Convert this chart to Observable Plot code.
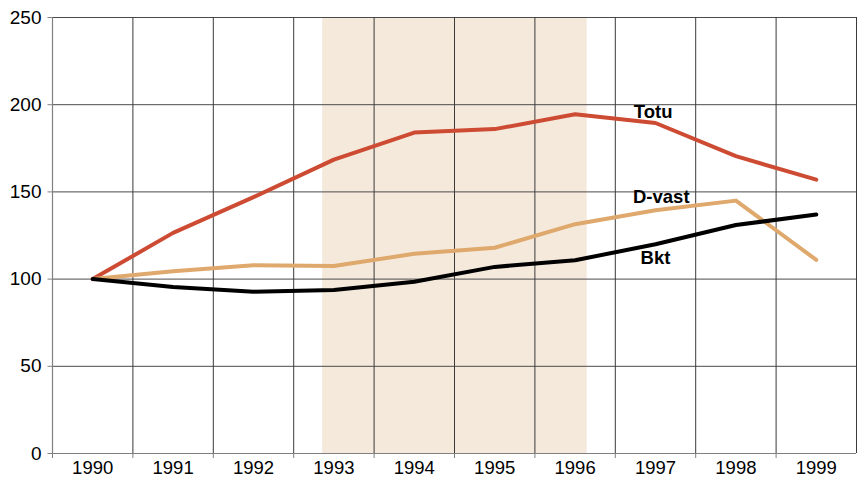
<!DOCTYPE html>
<html>
<head>
<meta charset="utf-8">
<script src="https://cdn.jsdelivr.net/npm/d3@7"></script>
<script src="https://cdn.jsdelivr.net/npm/@observablehq/plot@0.6"></script>
<style>
  html, body { margin: 0; padding: 0; background: #fff; }
  #chart svg { display: block; }
</style>
</head>
<body>
<div id="chart"></div>
<script>
const years = [1990, 1991, 1992, 1993, 1994, 1995, 1996, 1997, 1998, 1999];
const totu  = [100, 126.5, 147, 168.5, 184, 186, 194.5, 189.5, 170.5, 157];
const dvast = [100, 104.5, 108, 107.5, 114.5, 118, 131.5, 139.5, 145, 111];
const bkt   = [100, 95.5, 92.8, 93.7, 98.5, 107, 110.8, 120, 131, 137];
const yTicks = [0, 50, 100, 150, 200, 250];
const shadeStart = 1992.86, shadeEnd = 1996.15;
const labelNames = ["Totu", "D-vast", "Bkt"];
const labelX = [1996.97, 1996.72, 1997.0];
const labelY = [196, 147, 112];
const labelAnchor = ["middle", "start", "middle"];

const series = [
  {name: "Totu", values: totu, color: "#cd4b33"},
  {name: "D-vast", values: dvast, color: "#dfa86c"},
  {name: "Bkt", values: bkt, color: "#000000"}
];
const rows = series.flatMap(s => years.map((yr, i) => ({series: s.name, year: yr, value: s.values[i]})));
const bounds = d3.range(years.length + 1).map(i => years[0] - 0.5 + i);
const labels = labelNames.map((n, i) => ({name: n, x: labelX[i], y: labelY[i], anchor: labelAnchor[i]}));

const chart = Plot.plot({
  width: 857,
  height: 478,
  marginLeft: 52,
  marginRight: 1,
  marginTop: 17,
  marginBottom: 25,
  style: {fontFamily: "'Liberation Sans', Arial, sans-serif", fontSize: "18.5px", color: "#000", background: "#fff"},
  x: {domain: [years[0] - 0.5, years[years.length - 1] + 0.5]},
  y: {domain: [0, 250]},
  marks: [
    Plot.rect([{x1: shadeStart, x2: shadeEnd}], {x1: "x1", x2: "x2", y1: () => 0, y2: () => 250, fill: "#f5e9dc"}),
    Plot.ruleY(yTicks.slice(1), {stroke: "#4a4a4a", strokeWidth: 1}),
    Plot.ruleX(bounds.slice(1), {stroke: "#3a3a3a", strokeWidth: 1}),
    Plot.ruleX([bounds[0]], {stroke: "#808080", strokeWidth: 1.2}),
    Plot.ruleY([0], {stroke: "#808080", strokeWidth: 1.2}),
    ...series.map(s => Plot.line(rows.filter(r => r.series === s.name), {
      x: "year", y: "value", stroke: s.color, strokeWidth: 4, strokeLinejoin: "round", strokeLinecap: "round"
    })),
    Plot.text(labels.filter(d => d.anchor === "middle"), {x: "x", y: "y", text: "name", fontSize: 18.5, fontWeight: "bold", fill: "#000", textAnchor: "middle"}),
    Plot.text(labels.filter(d => d.anchor === "start"), {x: "x", y: "y", text: "name", fontSize: 18.5, fontWeight: "bold", fill: "#000", textAnchor: "start"}),
    Plot.axisY({ticks: yTicks, tickSize: 4.5, tickPadding: 6.5, stroke: "#808080", fill: "#000", fontSize: 19, label: null, tickFormat: d => String(d)}),
    Plot.axisX({ticks: years, tickSize: 0, tickPadding: 7, fill: "#000", fontSize: 18.5, label: null, tickFormat: d => String(d)}),
    Plot.axisX({ticks: bounds.slice(0, -1), tickSize: 5, tickPadding: 0, stroke: "#808080", label: null, tickFormat: () => ""})
  ]
});
document.getElementById("chart").appendChild(chart);
</script>
</body>
</html>
